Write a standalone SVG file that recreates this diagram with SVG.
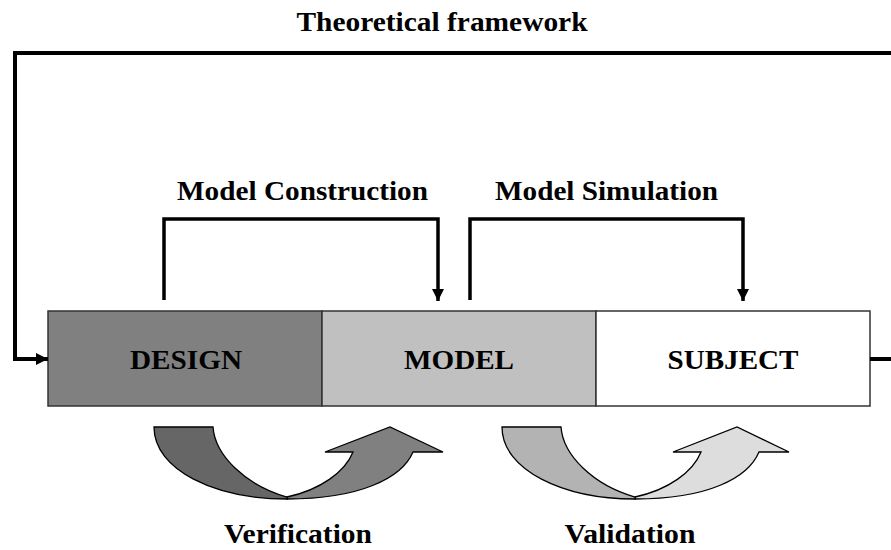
<svg xmlns="http://www.w3.org/2000/svg" width="891" height="550" viewBox="0 0 891 550">
  <style>
    .lbl { font-family: "Liberation Serif", "Times New Roman", serif; font-weight: bold; font-size: 28px; fill: #000; text-anchor: middle; }
    .box { stroke: #333; stroke-width: 1.5; }
    .flow { fill: none; stroke: #000; stroke-linejoin: miter; }
    .turn { stroke: #000; stroke-width: 1.3; stroke-linejoin: miter; }
  </style>
  <defs>
    <marker id="head" markerUnits="userSpaceOnUse" markerWidth="12" markerHeight="12" refX="12" refY="6" orient="auto">
      <path d="M0,0 L12,6 L0,12 z" fill="#000"/>
    </marker>
  </defs>
  <rect width="891" height="550" fill="#fff"/>

  <!-- pipeline stages -->
  <g id="design">
    <rect class="box" x="48" y="311" width="274" height="95" fill="#808080"/>
    <text class="lbl" x="186" y="369" textLength="112" lengthAdjust="spacingAndGlyphs">DESIGN</text>
  </g>
  <g id="model">
    <rect class="box" x="322" y="311" width="274" height="95" fill="#c0c0c0"/>
    <text class="lbl" x="459" y="369" textLength="110" lengthAdjust="spacingAndGlyphs">MODEL</text>
  </g>
  <g id="subject">
    <rect class="box" x="596" y="311" width="274" height="95" fill="#fff"/>
    <text class="lbl" x="733" y="369" textLength="131" lengthAdjust="spacingAndGlyphs">SUBJECT</text>
  </g>

  <!-- connectors -->
  <g id="connectors">
    <path class="flow" stroke-width="4" d="M870,359 H900 V53 H15 V359 H48" marker-end="url(#head)"/>
    <path class="flow" stroke-width="3.5" d="M164,300 V219 H438 V301" marker-end="url(#head)"/>
    <path class="flow" stroke-width="3.5" d="M470,300 V219 H743 V301" marker-end="url(#head)"/>
  </g>

  <!-- connector labels -->
  <g id="labels">
    <text class="lbl" x="442" y="31" textLength="291" lengthAdjust="spacingAndGlyphs">Theoretical framework</text>
    <text class="lbl" x="302.5" y="200" textLength="251" lengthAdjust="spacingAndGlyphs">Model Construction</text>
    <text class="lbl" x="606.5" y="200" textLength="223" lengthAdjust="spacingAndGlyphs">Model Simulation</text>
  </g>

  <!-- verification loop arrow -->
  <g id="verification">
    <path class="turn" fill="#808080" d="M287,497 C320,490 345,472 353,452 H325 L390,427 L443,452 H413 C402,478 360,499 287,499 z"/>
    <path class="turn" fill="#666666" d="M154,427 H213 C215,455 245,485 287,497 L287,499 C215,499 154,470 154,427 z"/>
    <text class="lbl" x="298" y="543" textLength="148" lengthAdjust="spacingAndGlyphs">Verification</text>
  </g>

  <!-- validation loop arrow -->
  <g id="validation">
    <path class="turn" fill="#dddddd" d="M635,497 C668,490 693,472 701,452 H673 L737,427 L789,452 H759 C748,478 708,499 635,499 z"/>
    <path class="turn" fill="#b3b3b3" d="M502,427 H561 C563,455 593,485 635,497 L635,499 C563,499 502,470 502,427 z"/>
    <text class="lbl" x="630" y="543" textLength="131" lengthAdjust="spacingAndGlyphs">Validation</text>
  </g>
</svg>
